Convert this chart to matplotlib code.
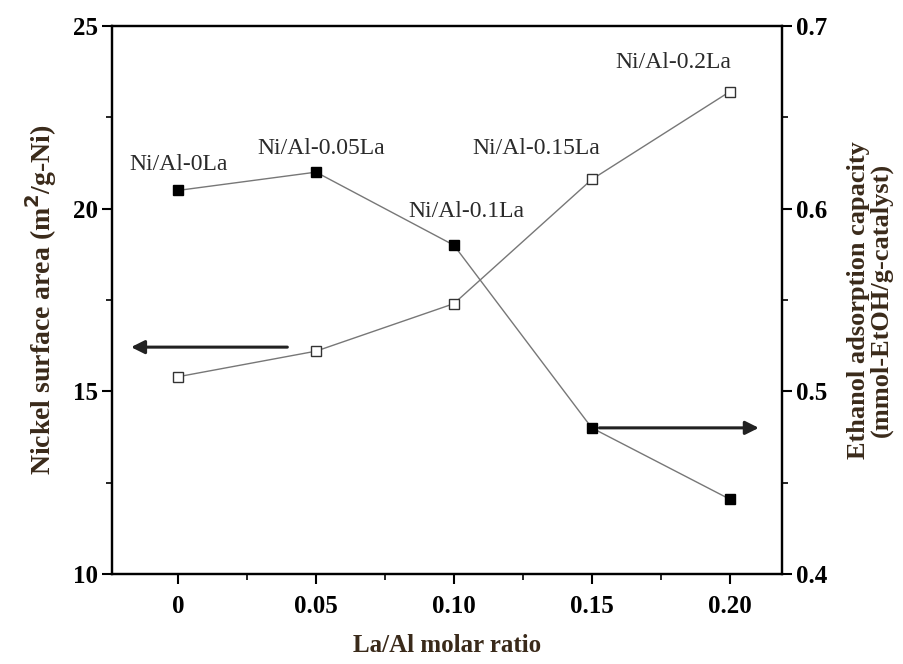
import matplotlib.pyplot as plt
from matplotlib.ticker import MultipleLocator

# data
la_ratio = [0, 0.05, 0.10, 0.15, 0.20]
ni_area = [15.4, 16.1, 17.4, 20.8, 23.2]          # left axis, open squares
etoh_cap = [0.610, 0.620, 0.580, 0.480, 0.441]    # right axis, filled squares
sample_labels = ["Ni/Al-0La", "Ni/Al-0.05La", "Ni/Al-0.1La", "Ni/Al-0.15La", "Ni/Al-0.2La"]
x_ticklabels = ["0", "0.05", "0.10", "0.15", "0.20"]

plt.rcParams["font.family"] = ["Liberation Serif", "DejaVu Serif"]

fig = plt.figure(figsize=(9.04, 6.64), dpi=100)
ax = fig.add_axes([112 / 904, 1 - 574 / 664, 670 / 904, 548 / 664])
ax2 = ax.twinx()

line_col = "#777777"
ax.plot(la_ratio, ni_area, color=line_col, lw=1, marker="s", ms=7,
        mfc="white", mec="#333333", mew=1, zorder=3)
ax2.plot(la_ratio, etoh_cap, color=line_col, lw=1, marker="s", ms=7,
         mfc="black", mec="black", zorder=3)

ax.set_xlim(-0.024, 0.219)
ax.set_ylim(10, 25)
ax2.set_ylim(0.4, 0.7)

ax.set_xticks(la_ratio)
ax.set_xticklabels(x_ticklabels)
ax.xaxis.set_minor_locator(MultipleLocator(0.025))
ax.yaxis.set_major_locator(MultipleLocator(5))
ax.yaxis.set_minor_locator(MultipleLocator(2.5))
ax2.yaxis.set_major_locator(MultipleLocator(0.1))
ax2.yaxis.set_minor_locator(MultipleLocator(0.05))

for a in (ax, ax2):
    a.tick_params(which="major", direction="out", length=7, width=1.5, labelsize=18, pad=3)
    a.tick_params(which="minor", direction="out", length=4, width=1.2)
    for s in a.spines.values():
        s.set_linewidth(1.6)
    for lab in a.get_xticklabels() + a.get_yticklabels():
        lab.set_fontweight("bold")
ax.tick_params(axis="x", which="both", top=False)
ax.tick_params(axis="x", which="major", pad=8)

lab_col = "#3a2a1a"
ax.set_xlabel("La/Al molar ratio", fontsize=18, fontweight="bold", labelpad=12, color=lab_col)
ax.set_ylabel("Nickel surface area (m$^\\mathbf{2}$/g-Ni)", fontsize=20, fontweight="bold",
              labelpad=10, color=lab_col)
ax2.set_ylabel("Ethanol adsorption capacity\n(mmol-EtOH/g-catalyst)", fontsize=19,
               fontweight="bold", labelpad=14, color=lab_col, rotation=90,
               linespacing=1.0)

# sample name labels (centres, in left-axis data units)
label_pos = [(0.0, 21.2), (0.052, 21.66), (0.1047, 19.91), (0.130, 21.66), (0.1795, 24.01)]
for name, (lx, ly) in zip(sample_labels, label_pos):
    ax.text(lx, ly, name, fontsize=17, ha="center", va="center", color="#2a2a2a")

# direction arrows
ax.annotate("", xy=(-0.0181, 16.21), xytext=(0.0406, 16.21),
            arrowprops=dict(arrowstyle="-|>", color="#222222", lw=2.2, mutation_scale=20))
ax2.annotate("", xy=(0.2116, 0.480), xytext=(0.1518, 0.480),
             arrowprops=dict(arrowstyle="-|>", color="#222222", lw=2.2, mutation_scale=20))

fig.savefig("out.png", dpi=100)
